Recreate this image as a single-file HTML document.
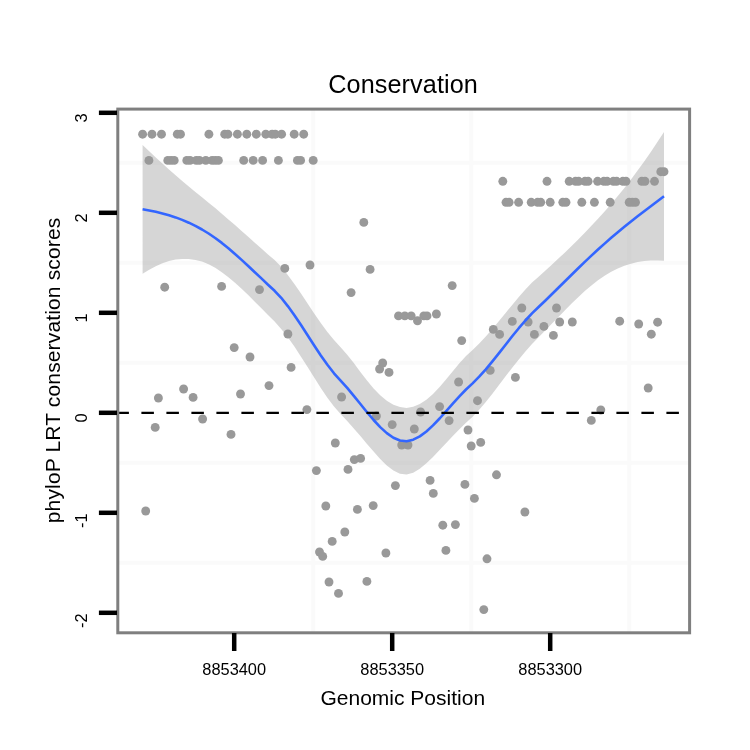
<!DOCTYPE html>
<html><head><meta charset="utf-8"><title>Conservation</title>
<style>
html,body{margin:0;padding:0;background:#fff}
svg{display:block}
text{font-family:"Liberation Sans",sans-serif;fill:#000}
</style></head>
<body>
<svg width="750" height="750" viewBox="0 0 750 750">
<rect width="750" height="750" fill="#fff"/>
<g stroke="#fafafa" stroke-width="4"><line x1="117.8" x2="689.6" y1="162.7" y2="162.7"/><line x1="117.8" x2="689.6" y1="262.7" y2="262.7"/><line x1="117.8" x2="689.6" y1="362.7" y2="362.7"/><line x1="117.8" x2="689.6" y1="462.7" y2="462.7"/><line x1="117.8" x2="689.6" y1="562.7" y2="562.7"/><line x1="313.2" x2="313.2" y1="109.1" y2="632.8"/><line x1="471.2" x2="471.2" y1="109.1" y2="632.8"/><line x1="629.2" x2="629.2" y1="109.1" y2="632.8"/></g>
<g fill="#999"><circle cx="142.6" cy="134.2" r="4.45"/><circle cx="145.7" cy="511.0" r="4.45"/><circle cx="148.9" cy="160.4" r="4.45"/><circle cx="152.0" cy="134.2" r="4.45"/><circle cx="155.2" cy="427.4" r="4.45"/><circle cx="158.4" cy="398.0" r="4.45"/><circle cx="161.5" cy="134.2" r="4.45"/><circle cx="164.7" cy="287.2" r="4.45"/><circle cx="167.8" cy="160.4" r="4.45"/><circle cx="171.0" cy="160.4" r="4.45"/><circle cx="174.2" cy="160.4" r="4.45"/><circle cx="177.3" cy="134.2" r="4.45"/><circle cx="180.5" cy="134.2" r="4.45"/><circle cx="183.6" cy="389.0" r="4.45"/><circle cx="186.8" cy="160.4" r="4.45"/><circle cx="190.0" cy="160.4" r="4.45"/><circle cx="193.1" cy="397.4" r="4.45"/><circle cx="196.3" cy="160.4" r="4.45"/><circle cx="199.4" cy="160.4" r="4.45"/><circle cx="202.6" cy="419.0" r="4.45"/><circle cx="205.8" cy="160.4" r="4.45"/><circle cx="208.9" cy="134.2" r="4.45"/><circle cx="212.1" cy="160.4" r="4.45"/><circle cx="215.2" cy="160.4" r="4.45"/><circle cx="218.4" cy="160.4" r="4.45"/><circle cx="221.6" cy="286.4" r="4.45"/><circle cx="224.7" cy="134.2" r="4.45"/><circle cx="227.9" cy="134.2" r="4.45"/><circle cx="231.0" cy="434.4" r="4.45"/><circle cx="234.2" cy="347.6" r="4.45"/><circle cx="237.4" cy="134.2" r="4.45"/><circle cx="240.5" cy="394.0" r="4.45"/><circle cx="243.7" cy="160.4" r="4.45"/><circle cx="246.8" cy="134.2" r="4.45"/><circle cx="250.0" cy="357.0" r="4.45"/><circle cx="253.2" cy="160.4" r="4.45"/><circle cx="256.3" cy="134.2" r="4.45"/><circle cx="259.5" cy="289.6" r="4.45"/><circle cx="262.6" cy="160.4" r="4.45"/><circle cx="265.8" cy="134.2" r="4.45"/><circle cx="269.0" cy="385.6" r="4.45"/><circle cx="272.1" cy="134.2" r="4.45"/><circle cx="275.3" cy="134.2" r="4.45"/><circle cx="278.4" cy="160.4" r="4.45"/><circle cx="281.6" cy="134.2" r="4.45"/><circle cx="284.8" cy="268.4" r="4.45"/><circle cx="287.9" cy="334.0" r="4.45"/><circle cx="291.1" cy="367.4" r="4.45"/><circle cx="294.2" cy="134.2" r="4.45"/><circle cx="297.4" cy="160.4" r="4.45"/><circle cx="300.6" cy="160.4" r="4.45"/><circle cx="303.7" cy="134.2" r="4.45"/><circle cx="306.9" cy="409.6" r="4.45"/><circle cx="310.0" cy="265.0" r="4.45"/><circle cx="313.2" cy="160.4" r="4.45"/><circle cx="316.4" cy="470.6" r="4.45"/><circle cx="319.5" cy="552.0" r="4.45"/><circle cx="322.7" cy="556.4" r="4.45"/><circle cx="325.8" cy="506.0" r="4.45"/><circle cx="329.0" cy="582.0" r="4.45"/><circle cx="332.2" cy="541.4" r="4.45"/><circle cx="335.3" cy="443.0" r="4.45"/><circle cx="338.5" cy="593.4" r="4.45"/><circle cx="341.6" cy="397.0" r="4.45"/><circle cx="344.8" cy="532.0" r="4.45"/><circle cx="348.0" cy="469.4" r="4.45"/><circle cx="351.1" cy="292.6" r="4.45"/><circle cx="354.3" cy="459.6" r="4.45"/><circle cx="357.4" cy="509.4" r="4.45"/><circle cx="360.6" cy="458.4" r="4.45"/><circle cx="363.8" cy="222.4" r="4.45"/><circle cx="366.9" cy="581.4" r="4.45"/><circle cx="370.1" cy="269.4" r="4.45"/><circle cx="373.2" cy="505.6" r="4.45"/><circle cx="376.4" cy="416.0" r="4.45"/><circle cx="379.6" cy="369.0" r="4.45"/><circle cx="382.7" cy="363.0" r="4.45"/><circle cx="385.9" cy="553.0" r="4.45"/><circle cx="389.0" cy="372.4" r="4.45"/><circle cx="392.2" cy="424.6" r="4.45"/><circle cx="395.4" cy="485.6" r="4.45"/><circle cx="398.5" cy="315.9" r="4.45"/><circle cx="401.7" cy="445.0" r="4.45"/><circle cx="404.8" cy="315.9" r="4.45"/><circle cx="408.0" cy="445.0" r="4.45"/><circle cx="411.2" cy="315.9" r="4.45"/><circle cx="414.3" cy="429.0" r="4.45"/><circle cx="417.5" cy="320.8" r="4.45"/><circle cx="420.6" cy="412.0" r="4.45"/><circle cx="423.8" cy="315.9" r="4.45"/><circle cx="427.0" cy="315.9" r="4.45"/><circle cx="430.1" cy="480.4" r="4.45"/><circle cx="433.3" cy="493.4" r="4.45"/><circle cx="436.4" cy="314.0" r="4.45"/><circle cx="439.6" cy="406.6" r="4.45"/><circle cx="442.8" cy="525.2" r="4.45"/><circle cx="445.9" cy="550.4" r="4.45"/><circle cx="449.1" cy="420.6" r="4.45"/><circle cx="452.2" cy="285.6" r="4.45"/><circle cx="455.4" cy="524.6" r="4.45"/><circle cx="458.6" cy="382.0" r="4.45"/><circle cx="461.7" cy="340.6" r="4.45"/><circle cx="464.9" cy="484.4" r="4.45"/><circle cx="468.0" cy="430.0" r="4.45"/><circle cx="471.2" cy="446.0" r="4.45"/><circle cx="474.4" cy="498.4" r="4.45"/><circle cx="477.5" cy="400.7" r="4.45"/><circle cx="480.7" cy="442.4" r="4.45"/><circle cx="483.8" cy="609.6" r="4.45"/><circle cx="487.0" cy="558.8" r="4.45"/><circle cx="490.2" cy="370.4" r="4.45"/><circle cx="493.3" cy="329.4" r="4.45"/><circle cx="496.5" cy="474.8" r="4.45"/><circle cx="499.6" cy="334.4" r="4.45"/><circle cx="502.8" cy="181.3" r="4.45"/><circle cx="506.0" cy="202.3" r="4.45"/><circle cx="509.1" cy="202.3" r="4.45"/><circle cx="512.3" cy="321.4" r="4.45"/><circle cx="515.4" cy="377.4" r="4.45"/><circle cx="518.6" cy="202.3" r="4.45"/><circle cx="521.8" cy="308.0" r="4.45"/><circle cx="524.9" cy="512.0" r="4.45"/><circle cx="528.1" cy="322.0" r="4.45"/><circle cx="531.2" cy="202.3" r="4.45"/><circle cx="534.4" cy="334.4" r="4.45"/><circle cx="537.6" cy="202.3" r="4.45"/><circle cx="540.7" cy="202.3" r="4.45"/><circle cx="543.9" cy="326.4" r="4.45"/><circle cx="547.0" cy="181.3" r="4.45"/><circle cx="550.2" cy="202.3" r="4.45"/><circle cx="553.4" cy="335.4" r="4.45"/><circle cx="556.5" cy="308.0" r="4.45"/><circle cx="559.7" cy="322.0" r="4.45"/><circle cx="562.8" cy="202.3" r="4.45"/><circle cx="566.0" cy="202.3" r="4.45"/><circle cx="569.2" cy="181.3" r="4.45"/><circle cx="572.3" cy="322.0" r="4.45"/><circle cx="575.5" cy="181.3" r="4.45"/><circle cx="578.6" cy="181.3" r="4.45"/><circle cx="581.8" cy="202.3" r="4.45"/><circle cx="585.0" cy="181.3" r="4.45"/><circle cx="588.1" cy="181.3" r="4.45"/><circle cx="591.3" cy="420.4" r="4.45"/><circle cx="594.4" cy="202.3" r="4.45"/><circle cx="597.6" cy="181.3" r="4.45"/><circle cx="600.8" cy="410.0" r="4.45"/><circle cx="603.9" cy="181.3" r="4.45"/><circle cx="607.1" cy="181.3" r="4.45"/><circle cx="610.2" cy="202.3" r="4.45"/><circle cx="613.4" cy="181.3" r="4.45"/><circle cx="616.6" cy="181.3" r="4.45"/><circle cx="619.7" cy="321.2" r="4.45"/><circle cx="622.9" cy="181.3" r="4.45"/><circle cx="626.0" cy="181.3" r="4.45"/><circle cx="629.2" cy="202.3" r="4.45"/><circle cx="632.4" cy="202.3" r="4.45"/><circle cx="635.5" cy="202.3" r="4.45"/><circle cx="638.7" cy="324.0" r="4.45"/><circle cx="641.8" cy="181.3" r="4.45"/><circle cx="645.0" cy="181.3" r="4.45"/><circle cx="648.2" cy="388.0" r="4.45"/><circle cx="651.3" cy="334.2" r="4.45"/><circle cx="654.5" cy="181.3" r="4.45"/><circle cx="657.6" cy="322.2" r="4.45"/><circle cx="660.8" cy="171.7" r="4.45"/><circle cx="664.0" cy="171.7" r="4.45"/></g>
<path d="M142.6 144.9 L149.2 151.3 L155.8 157.5 L162.4 163.6 L169.0 169.5 L175.6 175.3 L182.2 180.9 L188.8 186.5 L195.4 191.9 L202.0 197.3 L208.6 202.7 L215.2 208.1 L221.8 213.7 L228.4 219.4 L235.0 225.1 L241.6 231.0 L248.2 236.8 L254.8 242.7 L261.4 248.6 L268.0 254.4 L274.6 260.1 L281.2 266.8 L287.8 274.9 L294.4 284.0 L301.0 293.6 L307.6 303.6 L314.2 313.4 L320.8 322.9 L327.4 331.9 L334.0 340.0 L340.6 347.2 L347.2 354.7 L353.8 363.1 L360.4 371.9 L367.0 380.5 L373.6 388.4 L380.2 395.2 L386.8 400.7 L393.4 404.7 L400.0 407.1 L406.6 407.9 L413.2 406.8 L419.8 404.0 L426.4 399.7 L433.0 393.9 L439.6 387.0 L446.2 379.3 L452.8 371.3 L459.4 363.3 L466.0 356.1 L472.6 350.0 L479.2 343.5 L485.8 336.5 L492.4 329.0 L499.0 321.1 L505.6 313.0 L512.2 304.9 L518.8 297.0 L525.4 289.4 L532.0 282.6 L538.6 276.7 L545.2 270.8 L551.8 264.8 L558.4 258.6 L565.0 252.4 L571.6 246.0 L578.2 239.4 L584.8 232.7 L591.4 225.8 L598.0 218.7 L604.6 211.4 L611.2 203.9 L617.8 196.0 L624.4 187.9 L631.0 179.4 L637.6 170.5 L644.2 161.4 L650.8 151.9 L657.4 142.0 L664.0 131.9 L664.0 260.7 L657.4 260.4 L650.8 260.6 L644.2 261.1 L637.6 262.1 L631.0 263.7 L624.4 265.8 L617.8 268.5 L611.2 271.8 L604.6 275.7 L598.0 280.3 L591.4 285.5 L584.8 291.1 L578.2 297.2 L571.6 303.6 L565.0 310.2 L558.4 316.9 L551.8 323.8 L545.2 330.6 L538.6 337.3 L532.0 344.1 L525.4 351.5 L518.8 359.4 L512.2 367.7 L505.6 376.3 L499.0 385.0 L492.4 393.7 L485.8 402.0 L479.2 409.8 L472.6 416.7 L466.0 422.8 L459.4 429.2 L452.8 435.9 L446.2 442.9 L439.6 450.0 L433.0 456.9 L426.4 463.3 L419.8 468.8 L413.2 472.7 L406.6 474.5 L400.0 473.8 L393.4 470.6 L386.8 465.4 L380.2 458.9 L373.6 451.6 L367.0 443.9 L360.4 436.1 L353.8 428.4 L347.2 421.0 L340.6 414.0 L334.0 406.6 L327.4 397.8 L320.8 388.0 L314.2 377.6 L307.6 367.1 L301.0 356.7 L294.4 346.6 L287.8 337.3 L281.2 328.9 L274.6 321.5 L268.0 315.0 L261.4 308.3 L254.8 301.7 L248.2 295.1 L241.6 288.8 L235.0 282.8 L228.4 277.2 L221.8 272.2 L215.2 267.8 L208.6 264.3 L202.0 261.6 L195.4 259.9 L188.8 258.9 L182.2 258.9 L175.6 259.6 L169.0 261.1 L162.4 263.3 L155.8 266.2 L149.2 269.7 L142.6 273.7Z" fill="#999" fill-opacity="0.4"/>
<path d="M142.6 209.3 L149.2 210.5 L155.8 211.8 L162.4 213.4 L169.0 215.3 L175.6 217.4 L182.2 219.9 L188.8 222.7 L195.4 225.9 L202.0 229.5 L208.6 233.5 L215.2 238.0 L221.8 242.9 L228.4 248.3 L235.0 254.0 L241.6 259.9 L248.2 266.0 L254.8 272.2 L261.4 278.4 L268.0 284.7 L274.6 290.8 L281.2 297.8 L287.8 306.1 L294.4 315.3 L301.0 325.1 L307.6 335.3 L314.2 345.5 L320.8 355.5 L327.4 364.8 L334.0 373.3 L340.6 380.6 L347.2 387.9 L353.8 395.8 L360.4 404.0 L367.0 412.2 L373.6 420.0 L380.2 427.1 L386.8 433.1 L393.4 437.7 L400.0 440.5 L406.6 441.2 L413.2 439.7 L419.8 436.4 L426.4 431.5 L433.0 425.4 L439.6 418.5 L446.2 411.1 L452.8 403.6 L459.4 396.3 L466.0 389.5 L472.6 383.4 L479.2 376.7 L485.8 369.3 L492.4 361.3 L499.0 353.1 L505.6 344.7 L512.2 336.3 L518.8 328.2 L525.4 320.5 L532.0 313.4 L538.6 307.0 L545.2 300.7 L551.8 294.3 L558.4 287.8 L565.0 281.3 L571.6 274.8 L578.2 268.3 L584.8 261.9 L591.4 255.6 L598.0 249.5 L604.6 243.6 L611.2 237.8 L617.8 232.3 L624.4 226.8 L631.0 221.5 L637.6 216.3 L644.2 211.2 L650.8 206.2 L657.4 201.2 L664.0 196.3" fill="none" stroke="#3366ff" stroke-width="2.6" stroke-linejoin="round"/>
<line x1="116.4" x2="689.6" y1="412.8" y2="412.8" stroke="#000" stroke-width="2.2" stroke-dasharray="12.5 12.5"/>
<rect x="117.8" y="109.1" width="571.8000000000001" height="523.6999999999999" fill="none" stroke="#7f7f7f" stroke-width="3"/>
<g stroke="#000" stroke-width="4.5"><line x1="98.9" x2="117" y1="112.8" y2="112.8"/><line x1="98.9" x2="117" y1="212.8" y2="212.8"/><line x1="98.9" x2="117" y1="312.8" y2="312.8"/><line x1="98.9" x2="117" y1="412.8" y2="412.8"/><line x1="98.9" x2="117" y1="512.8" y2="512.8"/><line x1="98.9" x2="117" y1="612.8" y2="612.8"/><line x1="234.2" x2="234.2" y1="633" y2="651"/><line x1="392.2" x2="392.2" y1="633" y2="651"/><line x1="550.2" x2="550.2" y1="633" y2="651"/></g>
<g font-size="16.4"><text transform="translate(87.2 113.4) rotate(-90)" text-anchor="end">3</text><text transform="translate(87.2 213.4) rotate(-90)" text-anchor="end">2</text><text transform="translate(87.2 313.4) rotate(-90)" text-anchor="end">1</text><text transform="translate(87.2 413.4) rotate(-90)" text-anchor="end">0</text><text transform="translate(87.2 513.4) rotate(-90)" text-anchor="end">-1</text><text transform="translate(87.2 613.4) rotate(-90)" text-anchor="end">-2</text><text x="234.2" y="675.3" text-anchor="middle">8853400</text><text x="392.2" y="675.3" text-anchor="middle">8853350</text><text x="550.2" y="675.3" text-anchor="middle">8853300</text></g>
<text x="403.1" y="92.7" font-size="25.2" text-anchor="middle" letter-spacing="0.1">Conservation</text>
<text x="402.8" y="704.7" font-size="21" text-anchor="middle">Genomic Position</text>
<text transform="translate(60.1 370.4) rotate(-90)" font-size="21" text-anchor="middle" letter-spacing="0.15">phyloP LRT conservation scores</text>
</svg>
</body></html>
